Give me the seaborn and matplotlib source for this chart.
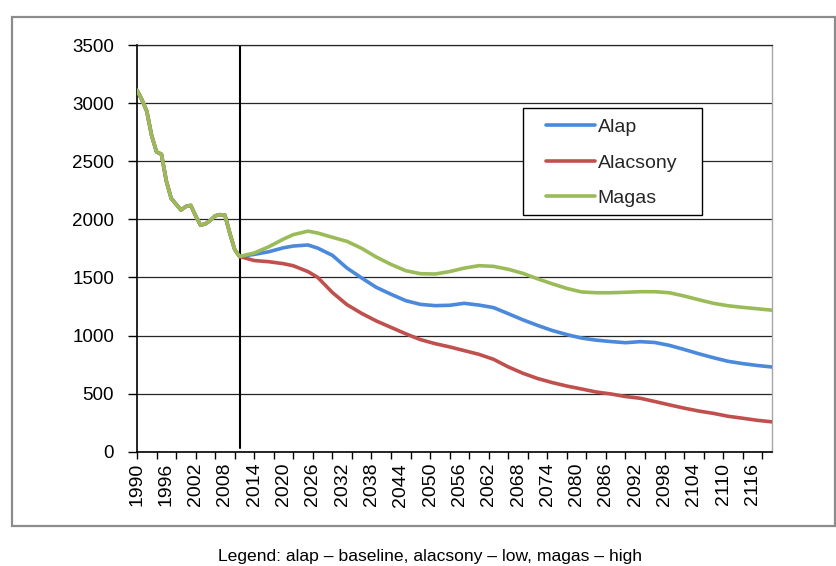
import matplotlib
matplotlib.use("Agg")
import matplotlib.pyplot as plt
import seaborn as sns
import pandas as pd
from matplotlib.patches import Rectangle
from matplotlib.ticker import FixedLocator, MultipleLocator

# ---------------- data ----------------
hist_years = list(range(1990, 2012))
hist_values = [3110, 3030, 2930, 2720, 2580, 2560, 2330, 2180, 2130, 2080, 2110,
               2120, 2030, 1950, 1960, 1990, 2030, 2040, 2035, 1880, 1740, 1680]

proj_years = [2011, 2014, 2017, 2020, 2022, 2025, 2027, 2030, 2033, 2036, 2039,
              2042, 2045, 2048, 2051, 2054, 2057, 2060, 2063, 2066, 2069, 2072,
              2075, 2078, 2081, 2084, 2087, 2090, 2093, 2096, 2099, 2102, 2105,
              2108, 2111, 2114, 2117, 2120]

alap = [1680, 1698, 1721, 1755, 1770, 1779, 1752, 1690, 1580, 1495, 1414,
        1355, 1300, 1268, 1257, 1260, 1277, 1262, 1240, 1188, 1135, 1087,
        1043, 1008, 978, 960, 948, 938, 947, 940, 915, 880, 843,
        809, 778, 758, 742, 729]

alacsony = [1680, 1645, 1635, 1618, 1600, 1550, 1500, 1370, 1265, 1190, 1125,
            1070, 1015, 965, 930, 902, 870, 838, 795, 730, 675, 630,
            595, 565, 540, 514, 497, 475, 460, 432, 403, 375, 350,
            330, 305, 288, 270, 257]

magas = [1685, 1710, 1764, 1830, 1868, 1898, 1882, 1845, 1810, 1750, 1675,
         1612, 1558, 1532, 1529, 1550, 1580, 1601, 1595, 1570, 1535, 1488,
         1445, 1405, 1375, 1368, 1368, 1372, 1377, 1377, 1368, 1340, 1308,
         1277, 1256, 1242, 1230, 1218]

series_names = ["Alap", "Alacsony", "Magas"]
series_colors = ["#4A89DC", "#C0504D", "#9BBB59"]
label_years = list(range(1990, 2117, 6))
tickmark_years = list(range(1990, 2121, 4))
caption = "Legend: alap – baseline, alacsony – low, magas – high"

frames = []
for name, vals in zip(series_names, [alap, alacsony, magas]):
    yrs = hist_years + proj_years[1:]
    vv = hist_values + vals[1:]
    frames.append(pd.DataFrame({"year": yrs, "value": vv, "series": name}))
df = pd.concat(frames, ignore_index=True)

# ---------------- plot ----------------
sns.set_theme(style="white")
plt.rcParams["font.family"] = ["Liberation Sans", "DejaVu Sans"]

W, H = 837, 566
fig = plt.figure(figsize=(W / 100, H / 100), dpi=100)
ax = fig.add_axes([137 / W, 1 - 451.7 / H, (772 - 137) / W, (451.7 - 45) / H])

sns.lineplot(data=df, x="year", y="value", hue="series", hue_order=series_names,
             palette=series_colors, linewidth=2.6, estimator=None, sort=False,
             ax=ax, zorder=3)

ax.set_xlim(1990, 2120)
ax.set_ylim(0, 3500)
ax.set_xlabel("")
ax.set_ylabel("")

# y axis
ax.yaxis.set_major_locator(MultipleLocator(500))
ax.tick_params(axis="y", which="major", direction="out", length=6.5, width=1,
               color="black", labelsize=13.5, pad=10, left=True, labelcolor="black")
ax.yaxis.grid(True, color="#262626", linewidth=0.9)
ax.set_axisbelow(True)

# x axis: labels every 6 years, tick marks every 4 years
ax.xaxis.set_major_locator(FixedLocator(label_years))
ax.xaxis.set_minor_locator(FixedLocator(tickmark_years))
ax.xaxis.remove_overlapping_locs = False
ax.tick_params(axis="x", which="major", length=0, labelsize=14, pad=8,
               labelrotation=90, labelcolor="black", bottom=True)
ax.tick_params(axis="x", which="minor", direction="out", length=5, width=1,
               color="black", bottom=True)

for side in ["left", "bottom"]:
    ax.spines[side].set_color("black")
    ax.spines[side].set_linewidth(1.2)
ax.spines["top"].set_color("#262626")
ax.spines["top"].set_linewidth(0.9)
ax.spines["right"].set_color("#a6a6a6")
ax.spines["right"].set_linewidth(1.0)

# vertical marker line at the start of the projection
ax.axvline(2011, ymin=0.01, ymax=1.0, color="black", linewidth=1.5, zorder=2.5)

# legend with custom frame
handles, labels = ax.get_legend_handles_labels()
ax.legend(handles, labels, loc="upper left",
          bbox_to_anchor=((546 - 137) / 635, (451.7 - 118.5) / 406.7),
          frameon=False, borderpad=0, borderaxespad=0, handlelength=2.5,
          handletextpad=0.15, labelspacing=0.92, fontsize=14)
ax.add_patch(Rectangle(((522.7 - 137) / 635, (451.7 - 215) / 406.7),
                       (701.7 - 522.7) / 635, (215 - 108) / 406.7,
                       transform=ax.transAxes, facecolor="white",
                       edgecolor="black", linewidth=1.0, zorder=4))

# outer chart frame
fig.add_artist(Rectangle((12 / W, 1 - 526 / H), (835 - 12) / W, (526 - 17) / H,
                         transform=fig.transFigure, fill=False,
                         edgecolor="#8c8c8c", linewidth=1.6))

fig.text(430 / W, 1 - 556 / H, caption, ha="center", va="center",
         fontsize=12.6, color="black")

fig.savefig("out.png", dpi=100)
